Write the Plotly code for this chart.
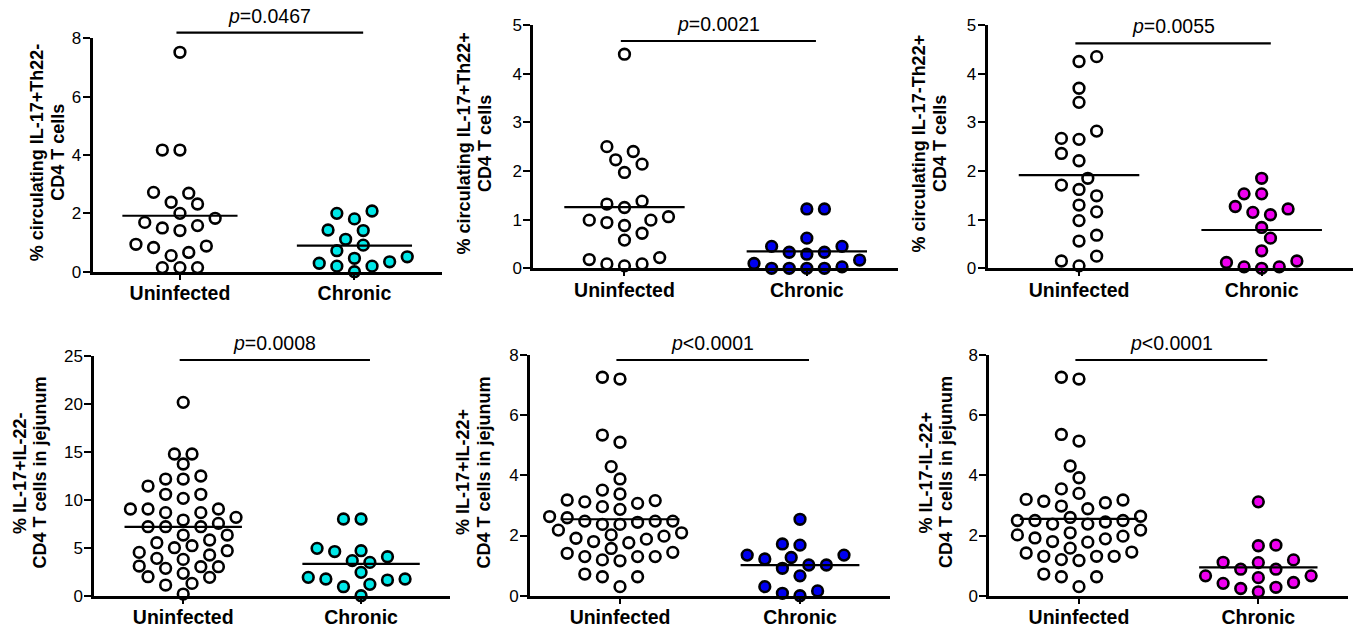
import numpy as np
import plotly.graph_objects as go

# ---------------- data ----------------
categories = ["Uninfected", "Chronic"]

p1_uninfected = [7.52, 4.17, 4.17, 2.72, 2.69, 2.38, 2.32, 2.00, 1.83, 1.69, 1.58,
                 1.50, 1.41, 0.94, 0.88, 0.83, 0.66, 0.55, 0.14, 0.14, 0.14]
p1_chronic = [2.08, 2.00, 1.81, 1.43, 1.41, 1.11, 0.91, 0.72, 0.51, 0.46, 0.34,
              0.29, 0.19, 0.19, 0.00]

p2_uninfected = [4.40, 2.50, 2.40, 2.23, 2.14, 1.97, 1.38, 1.32, 1.25, 1.06, 0.99,
                 0.99, 0.94, 0.88, 0.72, 0.58, 0.22, 0.18, 0.09, 0.05, 0.09]
p2_chronic = [1.22, 1.22, 0.62, 0.45, 0.45, 0.33, 0.33, 0.29, 0.17, 0.10, 0.03,
              0.00, 0.00, 0.00, 0.00]

p3_uninfected = [4.35, 4.25, 3.70, 3.41, 2.82, 2.67, 2.65, 2.36, 2.21, 1.85, 1.71,
                 1.62, 1.49, 1.30, 1.16, 0.98, 0.68, 0.56, 0.25, 0.15, 0.05]
p3_chronic = [1.85, 1.53, 1.53, 1.27, 1.22, 1.15, 1.10, 0.84, 0.62, 0.36, 0.15,
              0.12, 0.03, 0.00, 0.03]

p4_uninfected = [20.14, 14.76, 14.76, 13.72, 12.47, 12.15, 12.15, 11.42, 10.56, 10.56,
                 10.14, 9.03, 9.03, 9.03, 8.65, 8.65, 8.16, 7.88, 7.53, 7.19, 7.19,
                 7.19, 6.32, 6.32, 5.80, 5.52, 5.21, 5.00, 4.69, 4.51, 4.24, 3.89,
                 3.78, 3.09, 3.02, 3.02, 2.85, 2.33, 1.98, 1.91, 1.28, 1.11, 0.17]
p4_chronic = [7.99, 7.99, 4.93, 4.69, 4.60, 4.06, 3.65, 3.47, 2.43, 1.91, 1.74,
              1.74, 1.63, 1.18, 0.94, 0.00]

p5_uninfected = [7.26, 7.20, 5.34, 5.10, 4.29, 3.88, 3.51, 3.38, 3.16, 3.18, 3.12,
                 3.07, 2.96, 2.87, 2.63, 2.59, 2.48, 2.48, 2.48, 2.44, 2.37, 2.37,
                 2.18, 2.09, 2.02, 1.98, 1.91, 1.88, 1.80, 1.76, 1.57, 1.44, 1.41,
                 1.30, 1.30, 1.30, 1.19, 1.16, 0.63, 0.63, 0.72, 0.30]
p5_chronic = [2.54, 1.68, 1.72, 1.35, 1.35, 1.27, 1.22, 1.02, 1.02, 0.91, 0.66,
              0.30, 0.16, 0.08, 0.00]

p6_uninfected = [7.26, 7.20, 5.36, 5.14, 4.31, 3.92, 3.55, 3.40, 3.18, 3.20, 3.14,
                 3.09, 2.98, 2.89, 2.64, 2.60, 2.50, 2.50, 2.50, 2.45, 2.38, 2.38,
                 2.18, 2.09, 2.02, 1.98, 1.92, 1.89, 1.80, 1.78, 1.58, 1.45, 1.42,
                 1.31, 1.31, 1.31, 1.20, 1.17, 0.63, 0.63, 0.72, 0.30]
p6_chronic = [3.12, 1.66, 1.68, 1.19, 1.11, 1.10, 0.88, 0.88, 0.66, 0.66, 0.60,
              0.44, 0.41, 0.28, 0.24, 0.13]

y_title_line1 = [
    "% circulating IL-17+Th22-",
    "% circulating IL-17+Th22+",
    "% circulating IL-17-Th22+",
    "% IL-17+IL-22-",
    "% IL-17+IL-22+",
    "% IL-17-IL-22+",
]
y_title_line2 = [
    "CD4 T cells", "CD4 T cells", "CD4 T cells",
    "CD4 T cells in jejunum", "CD4 T cells in jejunum", "CD4 T cells in jejunum",
]
p_texts = ["<i>p</i>=0.0467", "<i>p</i>=0.0021", "<i>p</i>=0.0055",
           "<i>p</i>=0.0008", "<i>p</i><0.0001", "<i>p</i><0.0001"]
y_max = [8, 5, 5, 25, 8, 8]
y_dtick = [2, 1, 1, 5, 2, 2]
chronic_colors = ["#00E8E8", "#0000F0", "#F000F0", "#00E8E8", "#0000F0", "#F000F0"]

panels = [
    (p1_uninfected, p1_chronic), (p2_uninfected, p2_chronic), (p3_uninfected, p3_chronic),
    (p4_uninfected, p4_chronic), (p5_uninfected, p5_chronic), (p6_uninfected, p6_chronic),
]

# ---------------- layout (pixels) ----------------
W, H = 1360, 635
# (left, right, top, bottom) of each plot area in pixels
boxes = [
    (92.7, 441.7, 38.3, 271.7),
    (533.3, 898.0, 25.0, 268.3),
    (987.7, 1353.0, 25.0, 268.3),
    (94.3, 450.0, 355.7, 595.7),
    (530.0, 890.0, 355.0, 595.7),
    (989.3, 1348.0, 355.0, 595.7),
]
title_x_px = [47.5, 474, 929, 29.5, 474, 936.5]
title_gap_px = 20.5
bar_px = [32.7, 41.0, 43.3, 360.0, 360.0, 360.0]   # vertical pixel of significance bar

FONT = "Liberation Sans, Arial, sans-serif"
MARKER_D = 10.7
MARKER_LW = 2.6


def swarm(values, px_per_y, px_per_x, diam=13.3, step=8.8):
    vals = np.asarray(values, dtype=float)
    order = np.argsort(vals, kind="stable")
    placed = []
    offs = np.zeros(len(vals))
    cands = [0]
    for k in range(1, 30):
        cands += [k * step, -k * step]
    flip = 1
    for i in order:
        yp = vals[i] * px_per_y
        for c in cands:
            c = c * flip
            if all((c - px) ** 2 + (yp - py) ** 2 >= diam ** 2 for px, py in placed):
                placed.append((c, yp))
                offs[i] = c
                break
        flip = -flip
    return offs / px_per_x


fig = go.Figure()
layout_axes = {}
annotations = []
shapes = []

for k, ((unin, chron), (l, r, t, b)) in enumerate(zip(panels, boxes)):
    idx = "" if k == 0 else str(k + 1)
    xa, ya = "x" + idx, "y" + idx
    xr = [0.5, 2.5]
    yr = [0, y_max[k]]
    px_per_x = (r - l) / (xr[1] - xr[0])
    px_per_y = (b - t) / (yr[1] - yr[0])

    for ci, (vals, fill) in enumerate([(unin, "white"), (chron, chronic_colors[k])]):
        xc = ci + 1
        offs = swarm(vals, px_per_y, px_per_x)
        fig.add_trace(go.Scatter(
            x=xc + offs, y=vals, mode="markers", xaxis=xa, yaxis=ya,
            marker=dict(size=MARKER_D, color=fill, line=dict(color="black", width=MARKER_LW)),
            cliponaxis=False, showlegend=False, hoverinfo="y"))
    for ci, vals in enumerate([unin, chron]):
        xc = ci + 1
        m = float(np.mean(vals))
        fig.add_trace(go.Scatter(
            x=[xc - 0.33, xc + 0.33], y=[m, m], mode="lines", xaxis=xa, yaxis=ya,
            line=dict(color="black", width=2.2), cliponaxis=False,
            showlegend=False, hoverinfo="skip"))

    # significance bar and p-value
    yb = 1 - bar_px[k] / H
    shapes.append(dict(type="line", xref=xa, yref="paper", x0=0.98, x1=2.05,
                       y0=yb, y1=yb, line=dict(color="black", width=2.2)))
    annotations.append(dict(
        x=1.515, y=yb, xref=xa, yref="paper", text=p_texts[k], showarrow=False,
        yanchor="middle", yshift=17, font=dict(family=FONT, size=19.5, color="black")))

    # y-axis title (two lines)
    yc = 1 - ((t + b) / 2 - 3) / H
    for j, txt in enumerate([y_title_line1[k], y_title_line2[k]]):
        xc_px = title_x_px[k] + (j - 0.5) * title_gap_px
        annotations.append(dict(
            x=xc_px / W, y=yc, xref="paper", yref="paper",
            text=txt, showarrow=False, textangle=-90,
            xanchor="center", yanchor="middle",
            font=dict(family=FONT, size=18, color="black", weight="bold")))

    layout_axes["xaxis" + idx] = dict(
        domain=[l / W, r / W], range=xr, anchor=ya, automargin=False,
        tickvals=[1, 2], ticktext=categories, ticks="outside", ticklen=5, tickwidth=2,
        tickcolor="black", showline=True, linewidth=3, linecolor="black",
        showgrid=False, zeroline=False, fixedrange=True, ticklabelstandoff=-3,
        tickfont=dict(family=FONT, size=19.5, color="black", weight="bold"))
    layout_axes["yaxis" + idx] = dict(
        domain=[1 - b / H, 1 - t / H], range=yr, anchor=xa, automargin=False,
        tickmode="linear", tick0=0, dtick=y_dtick[k],
        ticks="outside", ticklen=7, tickwidth=2, tickcolor="black",
        showline=True, linewidth=3, linecolor="black",
        showgrid=False, zeroline=False, fixedrange=True, ticklabelstandoff=-2,
        tickfont=dict(family=FONT, size=17, color="black"))

fig.update_layout(
    width=W, height=H, margin=dict(l=0, r=0, t=0, b=0, autoexpand=False),
    paper_bgcolor="white", plot_bgcolor="white",
    annotations=annotations, shapes=shapes, **layout_axes)

fig.write_html("out.html")
